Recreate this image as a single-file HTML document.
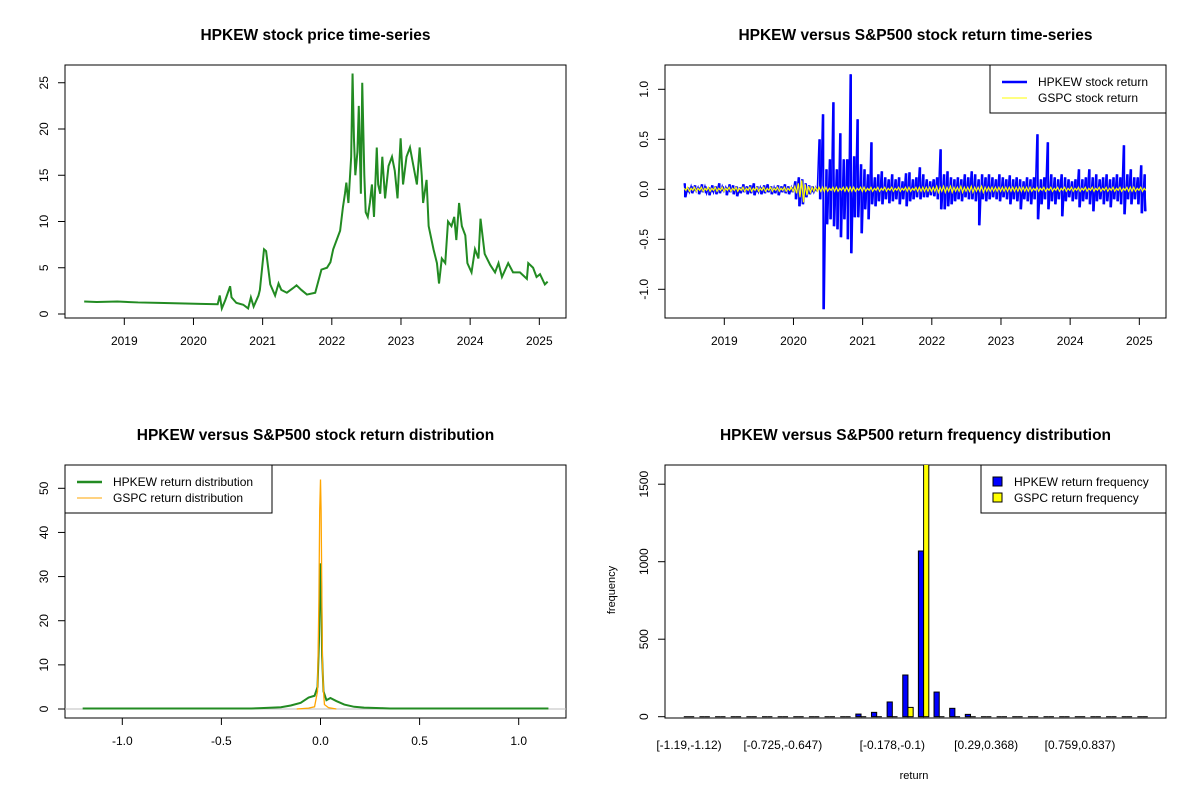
<!DOCTYPE html>
<html><head><meta charset="utf-8"><style>
body{margin:0;background:#fff}
svg{display:block;font-family:"Liberation Sans",Arial,sans-serif}
</style></head><body>
<svg id="c" width="1200" height="800" viewBox="0 0 1200 800"></svg>
<script>
// ---------- DATA ----------
const priceDates=[2018.42,2018.6,2018.9,2019.2,2019.5,2019.8,2020.1,2020.35,2020.38,2020.41,2020.46,2020.53,2020.55,2020.62,2020.72,2020.79,2020.83,2020.87,2020.94,2020.96,2021.02,2021.05,2021.08,2021.11,2021.18,2021.23,2021.27,2021.35,2021.44,2021.49,2021.56,2021.64,2021.76,2021.8,2021.85,2021.93,2021.98,2022.02,2022.07,2022.12,2022.16,2022.19,2022.21,2022.24,2022.28,2022.30,2022.32,2022.34,2022.37,2022.39,2022.42,2022.44,2022.47,2022.49,2022.52,2022.55,2022.58,2022.61,2022.65,2022.67,2022.70,2022.73,2022.77,2022.82,2022.87,2022.91,2022.95,2022.995,2023.03,2023.08,2023.13,2023.18,2023.23,2023.27,2023.30,2023.32,2023.37,2023.40,2023.47,2023.52,2023.55,2023.59,2023.64,2023.68,2023.73,2023.77,2023.80,2023.84,2023.88,2023.93,2023.96,2024.02,2024.07,2024.12,2024.15,2024.21,2024.29,2024.36,2024.41,2024.46,2024.55,2024.62,2024.72,2024.82,2024.84,2024.91,2024.96,2025.01,2025.08,2025.12];
const priceVals=[1.35,1.3,1.35,1.25,1.2,1.15,1.1,1.05,2.0,0.6,1.5,3.0,1.8,1.2,1.0,0.6,1.8,0.8,2.0,2.6,7.0,6.8,5.0,3.2,2.0,3.3,2.6,2.3,2.8,3.1,2.6,2.1,2.3,3.4,4.8,5.0,5.6,7.0,8.0,9.0,11.5,13.0,14.2,12.0,17.0,26.0,19.0,15.0,17.5,22.5,13.0,25.0,15.0,11,10.5,12,14,10.5,18,14,13,17,12.5,16,17,15.5,12.5,19,14,17,18,16,14,18,15,12,14.5,9.5,7.0,5.5,3.3,6.0,5.5,10,9.5,10.5,8.0,12,9.5,8.5,5.5,4.5,7.0,6.0,10.3,6.5,5.3,4.5,5.5,4.0,5.5,4.5,4.5,3.8,5.5,5.0,4.0,4.3,3.2,3.5];
const priceTicks=[0,5,10,15,20,25];
const yearTicks=[2019,2020,2021,2022,2023,2024,2025];

const retStart=2018.42, retStep=0.05;
const hpkUp=[0.06,0.02,0.03,0.04,0.02,0.05,0.03,0.02,0.04,0.03,0.06,0.03,0.02,0.05,0.04,0.03,0.02,0.05,0.03,0.04,0.06,0.03,0.02,0.04,0.05,0.03,0.02,0.04,0.03,0.05,0.03,0.02,
0.08,0.12,0.1,0.06,0.04,0.03,0.02,0.5,0.75,0.2,0.3,0.87,0.2,0.56,0.3,0.3,1.15,0.33,0.7,0.25,0.2,0.15,0.47,0.12,0.15,0.18,0.12,0.1,0.15,0.1,0.12,0.08,0.16,0.17,0.1,0.12,0.22,0.15,0.1,0.08,0.1,0.12,0.4,0.15,0.18,0.12,0.1,0.12,0.1,0.15,0.12,0.18,0.15,0.1,0.15,0.12,0.15,0.12,0.1,0.15,0.12,0.1,0.14,0.1,0.12,0.1,0.08,0.12,0.1,0.12,0.55,0.1,0.12,0.47,0.15,0.12,0.1,0.15,0.12,0.1,0.08,0.1,0.2,0.1,0.12,0.2,0.12,0.15,0.1,0.12,0.15,0.1,0.12,0.15,0.12,0.44,0.15,0.2,0.12,0.12,0.24,0.15];
const hpkDown=[-0.08,-0.03,-0.04,-0.02,-0.05,-0.03,-0.04,-0.06,-0.03,-0.05,-0.04,-0.02,-0.06,-0.03,-0.05,-0.07,-0.04,-0.03,-0.05,-0.04,-0.06,-0.03,-0.05,-0.04,-0.03,-0.05,-0.04,-0.06,-0.03,-0.04,-0.05,-0.03,
-0.1,-0.17,-0.15,-0.08,-0.05,-0.03,-0.02,-0.1,-1.2,-0.35,-0.3,-0.37,-0.4,-0.48,-0.3,-0.5,-0.64,-0.28,-0.28,-0.44,-0.2,-0.3,-0.15,-0.17,-0.12,-0.15,-0.1,-0.14,-0.12,-0.1,-0.15,-0.1,-0.17,-0.12,-0.1,-0.08,-0.1,-0.08,-0.08,-0.06,-0.07,-0.1,-0.2,-0.2,-0.17,-0.15,-0.12,-0.1,-0.12,-0.08,-0.1,-0.1,-0.12,-0.36,-0.1,-0.12,-0.1,-0.08,-0.1,-0.12,-0.08,-0.1,-0.15,-0.1,-0.12,-0.2,-0.1,-0.12,-0.15,-0.1,-0.3,-0.15,-0.1,-0.2,-0.12,-0.15,-0.1,-0.27,-0.12,-0.08,-0.12,-0.1,-0.18,-0.12,-0.1,-0.15,-0.22,-0.12,-0.1,-0.15,-0.12,-0.18,-0.1,-0.12,-0.15,-0.25,-0.1,-0.15,-0.1,-0.15,-0.24,-0.22];
const gspcUp=[0.01,0.02,0.01,0.02,0.01,0.02,0.01,0.02,0.01,0.02,0.01,0.02,0.01,0.02,0.01,0.02,0.01,0.02,0.01,0.02,0.01,0.02,0.01,0.02,0.01,0.02,0.01,0.02,0.01,0.02,0.01,0.02,
0.03,0.06,0.09,0.05,0.03,0.02,0.02,0.02,0.02,0.02,0.01,0.02,0.02,0.01,0.02,0.02,0.02,0.02,0.01,0.02,0.02,0.01,0.02,0.01,0.02,0.01,0.02,0.01,0.02,0.01,0.02,0.01,0.02,0.02,0.01,0.02,0.02,0.02,0.02,0.02,0.02,0.03,0.02,0.03,0.02,0.03,0.02,0.02,0.03,0.02,0.02,0.03,0.02,0.02,0.03,0.02,0.02,0.02,0.02,0.02,0.02,0.02,0.02,0.02,0.02,0.02,0.02,0.02,0.02,0.01,0.02,0.01,0.02,0.01,0.02,0.01,0.02,0.01,0.02,0.01,0.02,0.01,0.02,0.01,0.02,0.01,0.02,0.01,0.02,0.01,0.02,0.01,0.02,0.01,0.02,0.01,0.02,0.02,0.02,0.01,0.02,0.01,0.02,0.01,0.02,0.01];
const gspcDown=[-0.01,-0.02,-0.01,-0.02,-0.01,-0.02,-0.01,-0.02,-0.01,-0.02,-0.01,-0.02,-0.01,-0.02,-0.01,-0.02,-0.01,-0.02,-0.01,-0.02,-0.01,-0.02,-0.01,-0.02,-0.01,-0.02,-0.01,-0.02,-0.01,-0.02,-0.01,-0.02,
-0.04,-0.08,-0.13,-0.06,-0.03,-0.02,-0.02,-0.02,-0.02,-0.02,-0.01,-0.02,-0.02,-0.01,-0.02,-0.02,-0.02,-0.02,-0.01,-0.02,-0.02,-0.01,-0.02,-0.01,-0.02,-0.01,-0.02,-0.01,-0.02,-0.01,-0.02,-0.01,-0.02,-0.02,-0.01,-0.02,-0.02,-0.02,-0.02,-0.02,-0.02,-0.03,-0.02,-0.03,-0.02,-0.03,-0.02,-0.02,-0.03,-0.02,-0.02,-0.03,-0.02,-0.02,-0.03,-0.02,-0.02,-0.02,-0.02,-0.02,-0.02,-0.02,-0.02,-0.02,-0.02,-0.02,-0.02,-0.02,-0.02,-0.01,-0.02,-0.01,-0.02,-0.01,-0.02,-0.01,-0.02,-0.01,-0.02,-0.01,-0.02,-0.01,-0.02,-0.01,-0.02,-0.01,-0.02,-0.01,-0.02,-0.01,-0.02,-0.01,-0.02,-0.01,-0.02,-0.01,-0.02,-0.02,-0.02,-0.01,-0.02,-0.01,-0.02,-0.01,-0.02,-0.01];
const retTicks=[-1.0,-0.5,0.0,0.5,1.0];

const densX=[-1.2,-0.35,-0.3,-0.2,-0.15,-0.1,-0.06,-0.03,-0.015,-0.008,-0.004,0,0.004,0.008,0.015,0.03,0.05,0.08,0.12,0.17,0.22,0.3,0.35,1.15];
const hpkDens=[0.1,0.1,0.2,0.4,0.8,1.4,2.6,3.0,5,15,25,33,27,12,4,2.0,2.5,1.8,1.0,0.5,0.3,0.2,0.1,0.1];
const gspcDensX=[-0.12,-0.06,-0.03,-0.015,-0.008,-0.004,0,0.003,0.006,0.01,0.015,0.02,0.04,0.08];
const gspcDens=[0,0.2,0.5,4,25,45,52,45,30,10,4,1,0.3,0];
const densYTicks=[0,10,20,30,40,50];
const densXTicks=[-1.0,-0.5,0.0,0.5,1.0];

const binLabels=["[-1.19,-1.12)","[-0.725,-0.647)","[-0.178,-0.1)","[0.29,0.368)","[0.759,0.837)"];
const binLabelIdx=[0,6,13,19,25];
const hpkFreq=[0,0,0,0,0,0,0,0,2,4,6,17,28,95,269,1069,159,54,15,5,4,4,3,1,3,0,0,0,0,0];
const gspcFreq=[0,0,0,0,0,0,0,0,0,0,0,0,0,1,60,1700,3,0,0,0,0,0,0,0,0,0,0,0,0,0];
const freqTicks=[0,500,1000,1500];

// ---------- DRAW ----------
const NS="http://www.w3.org/2000/svg", svg=document.getElementById('c');
function el(tag,attrs,parent){const e=document.createElementNS(NS,tag);for(const k in attrs)e.setAttribute(k,attrs[k]);(parent||svg).appendChild(e);return e;}
function txt(s,x,y,attrs,parent){const t=el('text',Object.assign({x:x,y:y,'font-size':12,fill:'#000','text-anchor':'middle'},attrs||{}),parent);t.textContent=s;return t;}
function fmt(v,d){return v.toFixed(d);}

function panel(name,L,T,R,B,title,ty){
  const g=el('g',{});
  
  
  const ti=txt(title,(L+R)/2,ty,{'font-size':15.5,'font-weight':'bold'},g);
  
  
  const bx=el('rect',{x:L,y:T,width:R-L,height:B-T,fill:'none',stroke:'#000','stroke-width':1},g);
  
  
  return g;
}
function yAxis(g,ticks,sy,L,dec,name){
  const a=el('g',{},g);
  
  
  el('line',{x1:L,x2:L,y1:sy(ticks[0]),y2:sy(ticks[ticks.length-1]),stroke:'#000'},a);
  ticks.forEach(v=>{const y=sy(v);el('line',{x1:L,x2:L-7,y1:y,y2:y,stroke:'#000'},a);
    txt(fmt(v,dec),L-17,y,{transform:`rotate(-90 ${L-17} ${y})`},a);});
}
function xAxis(g,ticks,sx,B,lbl,name){
  const a=el('g',{},g);
  
  
  el('line',{x1:sx(ticks[0]),x2:sx(ticks[ticks.length-1]),y1:B,y2:B,stroke:'#000'},a);
  ticks.forEach((v,i)=>{const x=sx(v);el('line',{x1:x,x2:x,y1:B,y2:B+7,stroke:'#000'},a);txt(lbl[i],x,B+27,{},a);});
}

// Panel 1
{
 const L=65,T=65,R=566,B=318;
 const sx=y=>124.3+(y-2019)*69.17, sy=v=>314-v*9.25;
 const g=panel('price-panel',L,T,R,B,'HPKEW stock price time-series',40);
 yAxis(g,priceTicks,sy,L,0,'price-y-axis');
 xAxis(g,yearTicks,sx,B,yearTicks.map(String),'price-x-axis');
 const p=el('polyline',{points:priceDates.map((d,i)=>sx(d)+','+sy(priceVals[i])).join(' '),fill:'none',stroke:'#228B22','stroke-width':2},g);
 
 
}
// Panel 2
{
 const L=665,T=65,R=1166,B=318;
 const sx=y=>724.3+(y-2019)*69.17, sy=v=>189.3-v*100;
 const g=panel('return-panel',L,T,R,B,'HPKEW versus S&P500 stock return time-series',40);
 yAxis(g,retTicks,sy,L,1,'return-y-axis');
 xAxis(g,yearTicks,sx,B,yearTicks.map(String),'return-x-axis');
 let pts=[];hpkUp.forEach((u,i)=>{const d=retStart+retStep*i;pts.push(sx(d)+','+sy(u));pts.push((sx(d)+1.7)+','+sy(hpkDown[i]));});
 const h=el('polyline',{points:pts.join(' '),fill:'none',stroke:'#0000FF','stroke-width':1.5},g);
 
 
 hpkUp.forEach((u,i)=>{const x=sx(retStart+retStep*i)+0.8;el('line',{x1:x,x2:x,y1:sy(u),y2:sy(hpkDown[i]),stroke:'#0000FF','stroke-width':2},g);});
 pts=[];const n=Math.min(hpkUp.length,gspcUp.length,gspcDown.length);
 for(let i=0;i<n;i++){const d=retStart+retStep*i;pts.push(sx(d)+','+sy(gspcUp[i]));pts.push((sx(d)+1.7)+','+sy(gspcDown[i]));}
 const y=el('polyline',{points:pts.join(' '),fill:'none',stroke:'#FFFF00','stroke-width':1.2},g);
 
 
 const lg=el('g',{},g);
 
 
 el('rect',{x:990,y:65,width:176,height:48,fill:'#fff',stroke:'#000'},lg);
 el('line',{x1:1002,x2:1027,y1:82,y2:82,stroke:'#0000FF','stroke-width':2.5},lg);
 el('line',{x1:1002,x2:1027,y1:98,y2:98,stroke:'#FFFF00','stroke-width':1},lg);
 txt('HPKEW stock return',1038,86,{'text-anchor':'start'},lg);
 txt('GSPC stock return',1038,102,{'text-anchor':'start'},lg);
}
// Panel 3
{
 const L=65,T=465,R=566,B=718;
 const sx=v=>320.5+v*198.2, sy=v=>709-v*4.414;
 const g=panel('density-panel',L,T,R,B,'HPKEW versus S&P500 stock return distribution',440);
 yAxis(g,densYTicks,sy,L,0,'density-y-axis');
 xAxis(g,densXTicks,sx,B,densXTicks.map(v=>fmt(v,1)),'density-x-axis');
 el('line',{x1:L,x2:R,y1:sy(0),y2:sy(0),stroke:'#bebebe'},g);
 const h=el('polyline',{points:densX.map((x,i)=>sx(x)+','+sy(hpkDens[i])).join(' '),fill:'none',stroke:'#228B22','stroke-width':2},g);
 
 
 const o=el('polyline',{points:gspcDensX.map((x,i)=>sx(x)+','+sy(gspcDens[i])).join(' '),fill:'none',stroke:'#FFA500','stroke-width':1.3},g);
 
 
 const lg=el('g',{},g);
 
 
 el('rect',{x:65,y:465,width:207,height:48,fill:'#fff',stroke:'#000'},lg);
 el('line',{x1:77,x2:102,y1:482,y2:482,stroke:'#228B22','stroke-width':2.5},lg);
 el('line',{x1:77,x2:102,y1:498,y2:498,stroke:'#FFA500','stroke-width':1},lg);
 txt('HPKEW return distribution',113,486,{'text-anchor':'start'},lg);
 txt('GSPC return distribution',113,502,{'text-anchor':'start'},lg);
}
// Panel 4
{
 const L=665,T=465,R=1166,B=718;
 const gx=i=>689+i*15.64, sy=v=>716.7-v*0.155, bw=5.21;
 const g=panel('frequency-panel',L,T,R,B,'HPKEW versus S&P500 return frequency distribution',440);
 yAxis(g,freqTicks,sy,L,0,'frequency-y-axis');
 const cp=el('clipPath',{id:'cp4'},g);el('rect',{x:L,y:T,width:R-L,height:B-T},cp);
 const bars=el('g',{'clip-path':'url(#cp4)'},g);
 function bar(x,v,fill,name){
   const h=sy(0)-sy(v);
   let r;
   if(h<1){r=el('line',{x1:x,x2:x+bw,y1:sy(0),y2:sy(0),stroke:'#000','stroke-width':1},bars);}
   else{r=el('rect',{x:x,y:sy(v),width:bw,height:h,fill:fill,stroke:'#000','stroke-width':1},bars);}
   
   
 }
 hpkFreq.forEach((v,i)=>{bar(gx(i)-bw,v,'#0000FF','hpkew-bar');bar(gx(i),gspcFreq[i],'#FFFF00','gspc-bar');});
 binLabelIdx.forEach((b,k)=>txt(binLabels[k],gx(b),749,{},g));
 txt('return',914,779,{'font-size':11},g);
 txt('frequency',615,590,{'font-size':11,transform:'rotate(-90 615 590)'},g);
 const lg=el('g',{},g);
 
 
 el('rect',{x:981,y:465,width:185,height:48,fill:'#fff',stroke:'#000'},lg);
 el('rect',{x:993,y:477,width:9,height:9,fill:'#0000FF',stroke:'#000'},lg);
 el('rect',{x:993,y:493,width:9,height:9,fill:'#FFFF00',stroke:'#000'},lg);
 txt('HPKEW return frequency',1014,486,{'text-anchor':'start'},lg);
 txt('GSPC return frequency',1014,502,{'text-anchor':'start'},lg);
}
</script>
</body></html>
